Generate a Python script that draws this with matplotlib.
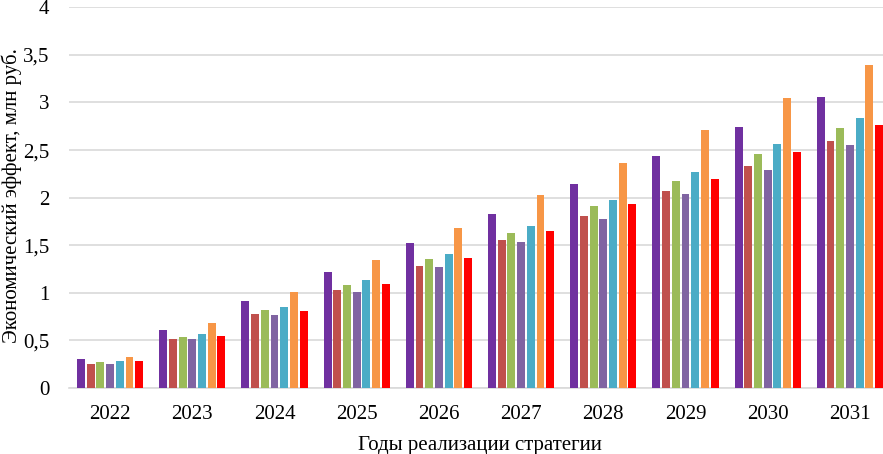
import matplotlib
matplotlib.use("Agg")
import matplotlib.pyplot as plt
import numpy as np

years = ["2022", "2023", "2024", "2025", "2026", "2027", "2028", "2029", "2030", "2031"]
s1 = [0.30, 0.61, 0.91, 1.22, 1.52, 1.83, 2.14, 2.44, 2.74, 3.06]
s2 = [0.25, 0.52, 0.78, 1.03, 1.28, 1.55, 1.81, 2.07, 2.33, 2.60]
s3 = [0.27, 0.54, 0.82, 1.08, 1.36, 1.63, 1.91, 2.18, 2.46, 2.73]
s4 = [0.25, 0.51, 0.77, 1.01, 1.27, 1.53, 1.78, 2.04, 2.29, 2.55]
s5 = [0.28, 0.57, 0.85, 1.13, 1.41, 1.70, 1.98, 2.27, 2.56, 2.84]
s6 = [0.33, 0.68, 1.01, 1.35, 1.68, 2.03, 2.36, 2.71, 3.05, 3.39]
s7 = [0.28, 0.55, 0.81, 1.09, 1.37, 1.65, 1.93, 2.20, 2.48, 2.76]
series = [s1, s2, s3, s4, s5, s6, s7]
colors = ["#7030A0", "#C0504D", "#9BBB59", "#8064A2", "#4BACC6", "#F79646", "#FF0000"]
yticks = [0, 0.5, 1, 1.5, 2, 2.5, 3, 3.5, 4]
ytick_labels = ["0", "0,5", "1", "1,5", "2", "2,5", "3", "3,5", "4"]

plt.rcParams['font.family'] = ['Liberation Serif', 'DejaVu Serif']

fig = plt.figure(figsize=(8.83, 4.54), dpi=100)
# plot area extends slightly past the right edge of the image (as in the reference)
ax = fig.add_axes([69/883, 1-388/454, 822/883, (388-7.3)/454])

x = np.arange(len(years))
slot = 0.118
width = 0.095
n = len(series)
for i, (vals, c) in enumerate(zip(series, colors)):
    ax.bar(x + (i - (n-1)/2) * slot, vals, width=width, color=c, zorder=3)

ax.set_xlim(-0.5, len(years) - 0.5)
ax.set_ylim(0, 4)
ax.set_yticks(yticks)
ax.set_yticklabels(ytick_labels)
ax.set_xticks(x)
ax.set_xticklabels(years)
ax.grid(axis='y', color='#D9D9D9', linewidth=1.2, zorder=0)
for sp in ['top', 'right', 'left']:
    ax.spines[sp].set_visible(False)
ax.spines['bottom'].set_color('#D9D9D9')
ax.spines['bottom'].set_linewidth(1.2)
ax.tick_params(axis='both', length=0, labelsize=15)
ax.tick_params(axis='y', pad=14)
ax.tick_params(axis='x', pad=12)
ax.set_xlabel("Годы реализации стратегии", fontsize=15, labelpad=9)
fig.text(1/883, 1-196/454, "Экономический эффект, млн руб.", fontsize=15,
         rotation=90, ha='left', va='center')

fig.savefig("out.png", dpi=100)
